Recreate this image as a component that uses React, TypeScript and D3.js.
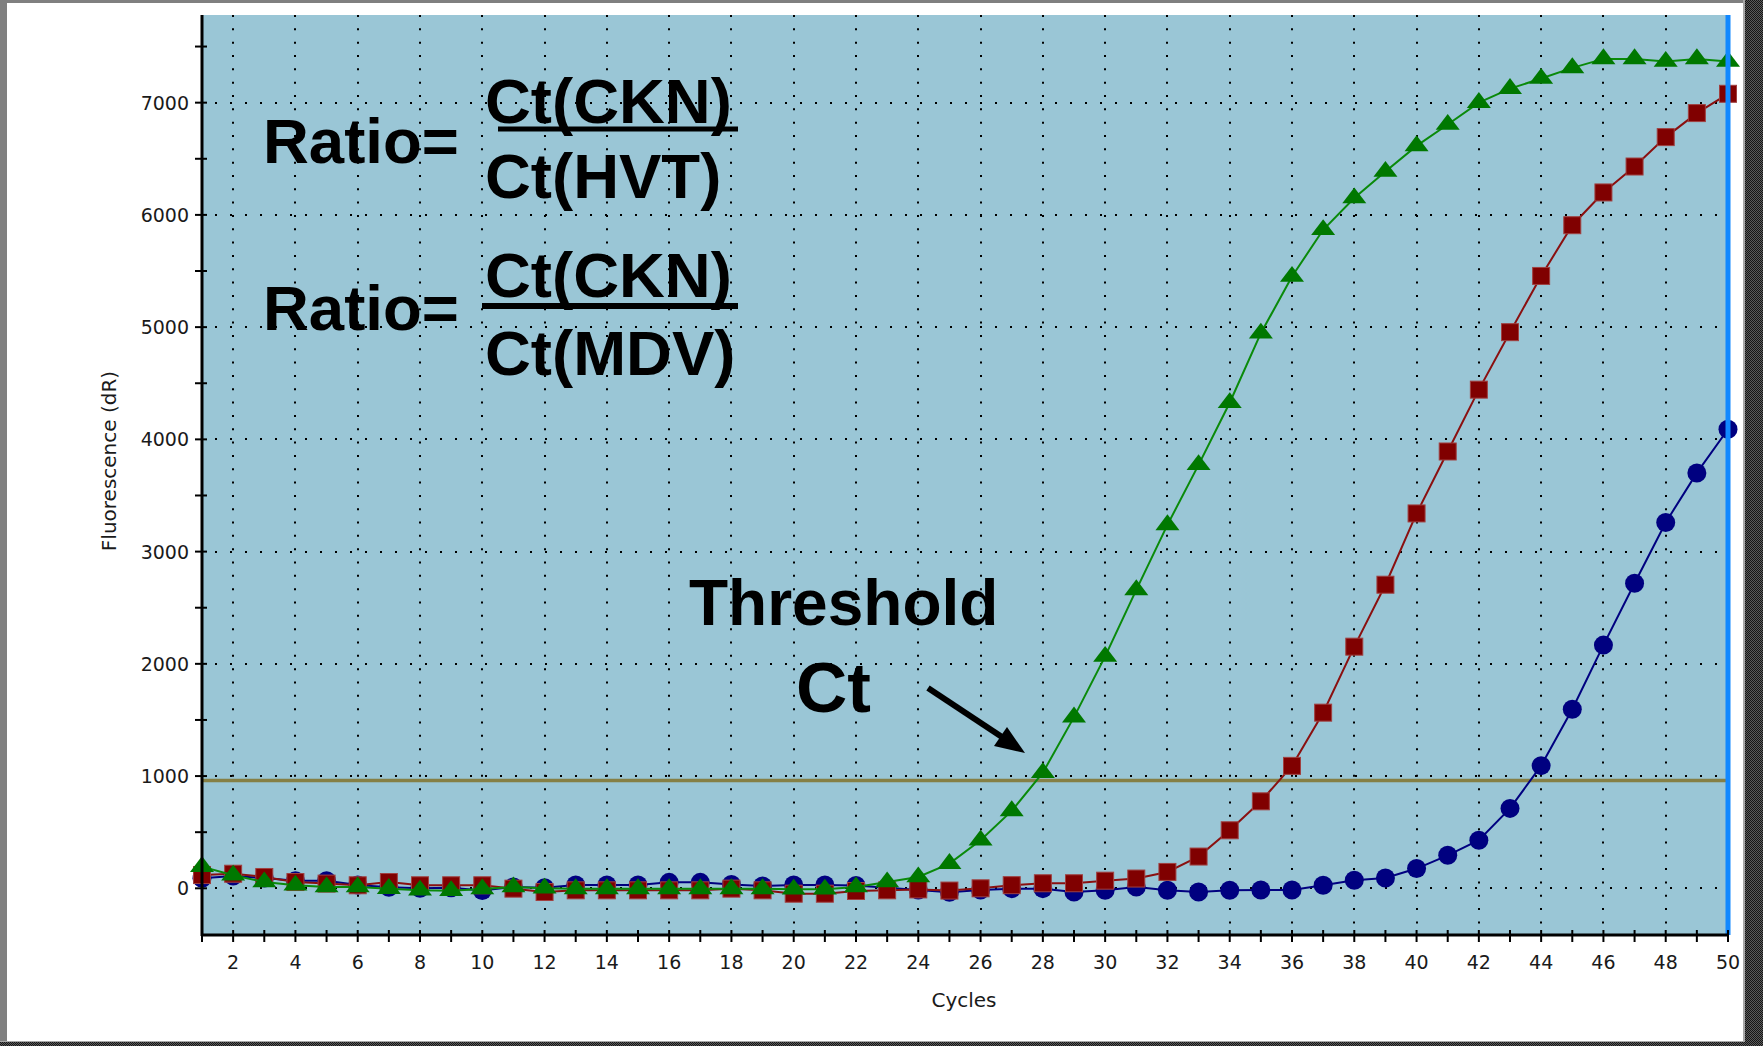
import React from "react";
import * as d3 from "d3";

const cycles: number[] = d3.range(1, 51);

const hvtValues: number[] = [
  193, 116, 56, 27, 12, 12, -3, -18, -22, -7,
  12, 0, -5, -5, -5, -5, -5, -5, -5, -8,
  -8, 12, 56, 101, 220, 428, 690, 1030, 1525, 2066,
  2659, 3238, 3773, 4326, 4946, 5451, 5867, 6150, 6387, 6615,
  6805, 7000, 7125, 7215, 7310, 7390, 7390, 7367, 7390, 7367,
];

const mdvValues: number[] = [
  118, 130, 101, 56, 42, 27, 56, 27, 27, 27,
  -3, -33, -18, -18, -18, -18, -18, -3, -18, -48,
  -48, -24, -18, -10, -20, 0, 28, 45, 45, 68,
  87, 146, 283, 517, 775, 1091, 1565, 2153, 2705, 3340,
  3892, 4443, 4955, 5456, 5908, 6200, 6431, 6693, 6907, 7079,
];

const ckValues: number[] = [
  89, 110, 92, 68, 68, 29, 10, 0, 5, -20,
  12, 5, 29, 29, 29, 53, 53, 35, 20, 30,
  30, 25, 5, -15, -35, -15, -3, -3, -33, -18,
  12, -18, -33, -18, -15, -15, 27, 71, 92, 176,
  294, 428, 712, 1093, 1595, 2167, 2718, 3260, 3701, 4090,
];

const thresholdValue = 960;
const xTickLabels: number[] = d3.range(2, 51, 2);
const yTickLabels: number[] = [0, 1000, 2000, 3000, 4000, 5000, 6000, 7000];
const yMinorTicks: number[] = d3.range(0, 7501, 500);
const xGrid: number[] = d3.range(2, 50, 2);

const W = 1763;
const H = 1046;
const L = 202;
const R = 1728;
const T = 15;
const B = 935;

const x = d3.scaleLinear().domain([1, 50]).range([L, R]);
const y = d3.scaleLinear().domain([-416, 7781]).range([B, T]);

const lineGen = d3
  .line<number>()
  .x((_, i) => x(cycles[i]))
  .y((d) => y(d));

const tri = d3.symbol().type(d3.symbolTriangle).size(160);

export default function App() {
  const tickFont = { fontFamily: "DejaVu Sans", fontSize: 19, fill: "#1a1a1a" };
  const bigFont = {
    fontFamily: "Liberation Sans, Arial, sans-serif",
    fontWeight: 700 as const,
    fill: "#000",
  };
  return (
    <div style={{ position: "absolute", left: 0, top: 0 }}>
      <svg width={W} height={H} style={{ display: "block" }}>
        <defs>
          <pattern id="chk" width={2} height={2} patternUnits="userSpaceOnUse">
            <rect width={2} height={2} fill="#5a5a5a" />
            <rect width={1} height={1} fill="#151515" />
            <rect x={1} y={1} width={1} height={1} fill="#151515" />
          </pattern>
          <clipPath id="plotclip">
            <rect x={L - 12} y={T} width={R - L + 30} height={B - T} />
          </clipPath>
        </defs>
        {/* frame */}
        <rect x={0} y={0} width={W} height={H} fill="#ffffff" />
        <rect x={0} y={0} width={7} height={H} fill="#808080" />
        <rect x={0} y={0} width={W} height={3} fill="#808080" />
        <rect x={1743} y={0} width={2} height={H} fill="#a8a8a8" />
        <rect x={1745} y={0} width={W - 1745} height={H} fill="url(#chk)" />
        <rect x={0} y={1041} width={1745} height={1} fill="#a8a8a8" />
        <rect x={0} y={1042} width={W} height={H - 1042} fill="url(#chk)" />

        {/* plot background */}
        <rect x={L} y={T} width={R - L} height={B - T} fill="#9AC6D6" />

        {/* annotation text */}
        <g style={bigFont}>
          <text x={263} y={163} fontSize={63.5}>Ratio=</text>
          <text x={485} y={123} fontSize={63.5}>Ct(CKN)</text>
          <rect x={498} y={126.5} width={240} height={5} fill="#000" />
          <text x={485} y={198} fontSize={63.5}>Ct(HVT)</text>

          <text x={263} y={330} fontSize={63.5}>Ratio=</text>
          <text x={485} y={297} fontSize={63.5}>Ct(CKN)</text>
          <rect x={482} y={303} width={256} height={6} fill="#000" />
          <text x={485} y={375} fontSize={63.5}>Ct(MDV)</text>

          <text x={689} y={625} fontSize={64}>Threshold</text>
          <text x={796} y={712} fontSize={71}>Ct</text>
        </g>

        {/* grid dots */}
        <g stroke="#000" strokeWidth={2}>
          {yTickLabels.map((v) => (
            <line
              key={"hg" + v}
              x1={L + 13}
              x2={R}
              y1={Math.round(y(v))}
              y2={Math.round(y(v))}
              strokeDasharray="2 13"
            />
          ))}
          {xGrid.map((c) => (
            <line
              key={"vg" + c}
              x1={Math.round(x(c))}
              x2={Math.round(x(c))}
              y1={T}
              y2={B}
              strokeDasharray="2 11.33"
            />
          ))}
        </g>

        {/* arrow */}
        <g>
          <line x1={928} y1={688} x2={1002} y2={737} stroke="#000" strokeWidth={6} />
          <polygon points="1025,753 994,746 1007,727" fill="#000" />
        </g>

        {/* threshold line */}
        <line
          x1={L}
          x2={R}
          y1={y(thresholdValue)}
          y2={y(thresholdValue)}
          stroke="#857F45"
          strokeWidth={3.5}
        />

        {/* series */}
        <g clipPath="url(#plotclip)">
          <path d={lineGen(ckValues) || ""} fill="none" stroke="#000080" strokeWidth={2} />
          {ckValues.map((v, i) => (
            <circle key={"b" + i} cx={x(cycles[i])} cy={y(v)} r={9.5} fill="#000080" />
          ))}
          <path d={lineGen(mdvValues) || ""} fill="none" stroke="#8a1010" strokeWidth={2} />
          {mdvValues.map((v, i) => (
            <rect
              key={"r" + i}
              x={x(cycles[i]) - 8.5}
              y={y(v) - 8.5}
              width={17}
              height={17}
              fill="#800000"
              stroke="#a04040"
              strokeWidth={1}
            />
          ))}
          <path d={lineGen(hvtValues) || ""} fill="none" stroke="#0a8a0a" strokeWidth={2} />
          {hvtValues.map((v, i) => (
            <path
              key={"g" + i}
              d={tri() || ""}
              transform={`translate(${x(cycles[i])},${y(v)}) scale(1.25,0.95)`}
              fill="#007800"
            />
          ))}
        </g>

        {/* blue cursor line at last cycle */}
        <line x1={x(50)} x2={x(50)} y1={T} y2={B} stroke="#1188ff" strokeWidth={5} />

        {/* axes */}
        <line x1={L} x2={L} y1={T} y2={B + 1} stroke="#000" strokeWidth={3} />
        <line x1={L} x2={R} y1={B} y2={B} stroke="#000" strokeWidth={3} />
        {yMinorTicks.map((v) => (
          <line key={"yt" + v} x1={L - 7} x2={L + 5} y1={y(v)} y2={y(v)} stroke="#000" strokeWidth={2} />
        ))}
        {cycles.map((c) => (
          <line key={"xt" + c} x1={x(c)} x2={x(c)} y1={B - 5} y2={B + 7} stroke="#000" strokeWidth={2} />
        ))}
        <g style={tickFont}>
          {yTickLabels.map((v) => (
            <text key={"yl" + v} x={189} y={y(v) + 7} textAnchor="end">
              {v}
            </text>
          ))}
          {xTickLabels.map((c) => (
            <text key={"xl" + c} x={x(c)} y={969} textAnchor="middle">
              {c}
            </text>
          ))}
        </g>
        <text x={964} y={1007} textAnchor="middle" style={{ ...tickFont, fontSize: 20 }}>
          Cycles
        </text>
        <text
          transform="translate(116,461) rotate(-90)"
          textAnchor="middle"
          style={{ ...tickFont, fontSize: 20 }}
        >
          Fluorescence (dR)
        </text>
      </svg>
    </div>
  );
}
